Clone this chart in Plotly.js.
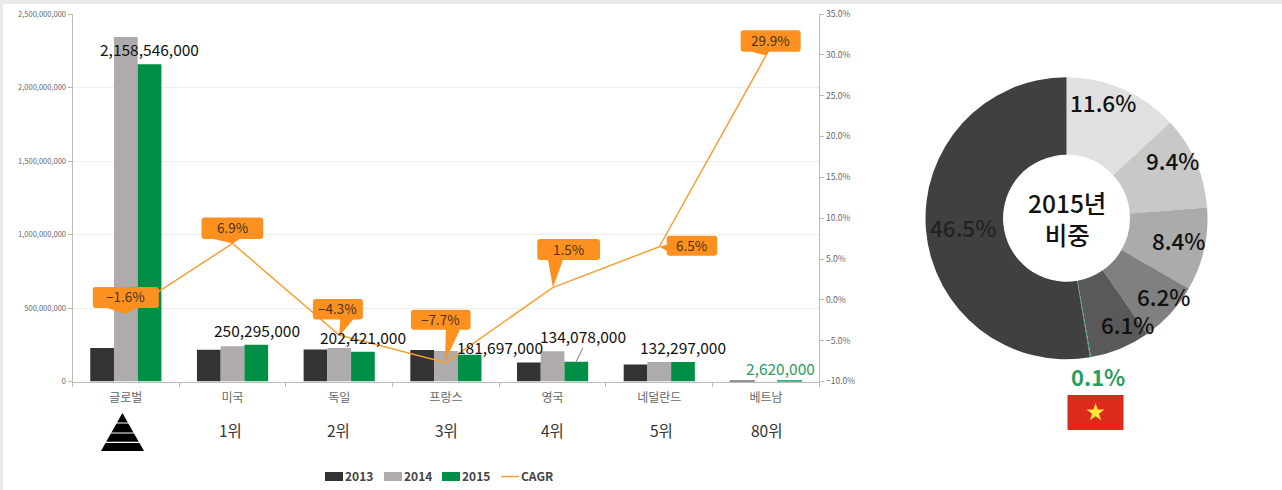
<!DOCTYPE html>
<html>
<head>
<meta charset="utf-8">
<script src="https://cdn.plot.ly/plotly-3.0.1.min.js"></script>
<style>
html,body{margin:0;padding:0;background:#fff;overflow:hidden}
#chart{position:absolute;left:0;top:0;width:1282px;height:490px}
.stripe{position:absolute;background:#e9e9e9;z-index:5}
</style>
</head>
<body>
<div id="chart"></div>
<div class="stripe" style="left:0;top:0;width:1282px;height:4px"></div>
<div class="stripe" style="left:0;top:0;width:3px;height:490px"></div>
<script>
const categories = ['글로벌','미국','독일','프랑스','영국','네덜란드','베트남'];
const ranks = ['','1위','2위','3위','4위','5위','80위'];
const seriesNames = ['2013','2014','2015','CAGR'];
const v2013 = [228000000,216000000,217000000,215000000,130000000,115000000,2000000];
const v2014 = [2343000000,240000000,228000000,208000000,205000000,132000000,2200000];
const v2015 = [2158546000,250295000,202421000,181697000,134078000,132297000,2620000];
const cagr = [-1.6,6.9,-4.3,-7.7,1.5,6.5,29.9];
const shareLabels = ['미국','독일','프랑스','영국','네덜란드','베트남','기타'];
const shareValues = [11.6,9.4,8.4,6.2,6.1,0.1,46.5];

const W=1282,H=490;
const FONT='"Noto Sans CJK KR","Noto Sans",sans-serif';
const px=x=>x/W, py=y=>1-y/H;
const ty=y=>py(y-1.5);
const ORANGE='#FE9020', LINE='#F7A035', C13='#333333', C14='#AFABAB', C15='#008F47', GREEN='#2A9D5E';
const fmt=n=>n.toLocaleString('en-US');
const pct=n=>(n<0?'−':'')+Math.abs(n).toFixed(1)+'%';

const barTrace=(name,y,color,lw)=>({type:'bar',name,x:categories,y,marker:{color,line:{color,width:categories.map((c,i)=>i===6?lw:0)}},hoverinfo:'skip'});
const traces=[
  barTrace(seriesNames[0],v2013,C13,1.5),
  barTrace(seriesNames[1],v2014,C14,0),
  barTrace(seriesNames[2],v2015,C15,1.5),
  {type:'scatter',mode:'lines',name:seriesNames[3],x:categories,y:cagr,yaxis:'y2',line:{color:LINE,width:1.5},hoverinfo:'skip'},
  {type:'pie',labels:shareLabels,values:shareValues,sort:false,direction:'clockwise',rotation:0,hole:0.45,
   textinfo:'none',showlegend:false,hoverinfo:'skip',
   marker:{colors:['#E0E0E0','#C8C8C8','#ABABAB','#808080','#595959','#2FA37A','#404040'],line:{width:0}},
   domain:{x:[px(925.5),px(1207.5)],y:[py(359.5),py(77)]}}
];

const annotations=[], shapes=[];
// value labels (x offset from category centre, page y)
const labelShift=[24,24.4,24.2,54,30.4,23.7,15];
const labelY=[51,331,338,348,337,348,369];
const rankShift=[0,-2,-1,0.7,0.4,2.7,0.7];
v2015.forEach((v,i)=>{
  annotations.push({xref:'x',yref:'paper',x:categories[i],xshift:labelShift[i],y:ty(labelY[i]),yanchor:'middle',xanchor:'center',
    text:fmt(v),showarrow:false,font:{family:FONT,size:15.5,color:i===6?GREEN:'#111'}});
  if(ranks[i]) annotations.push({xref:'x',yref:'paper',x:categories[i],xshift:rankShift[i],y:ty(431),yanchor:'middle',xanchor:'center',
    text:ranks[i],showarrow:false,font:{family:FONT,size:15.5,color:'#333'}});
});
// callouts: box and tail, pixels relative to the data point (y up)
function callout(i,l,r,t,b,a,c,tx,tyy,edge){
  const R=3;
  let p=`M${l+R},${t} L${r-R},${t} Q${r},${t} ${r},${t-R} L${r},${b+R} Q${r},${b} ${r-R},${b} `;
  if(edge==='left'){
    p+=`L${l+R},${b} Q${l},${b} ${l},${b+R} L${l},${a} L${tx},${tyy} L${l},${c} L${l},${t-R} Q${l},${t} ${l+R},${t} Z`;
  }else{
    p+=`L${c},${b} L${tx},${tyy} L${a},${b} L${l+R},${b} Q${l},${b} ${l},${b+R} L${l},${t-R} Q${l},${t} ${l+R},${t} Z`;
  }
  shapes.push({type:'path',layer:'above',xref:'x',yref:'y2',xsizemode:'pixel',ysizemode:'pixel',xanchor:i,yanchor:cagr[i],
    path:p,fillcolor:ORANGE,line:{width:0}});
  annotations.push({xref:'x',yref:'y2',x:categories[i],y:cagr[i],xanchor:'center',yanchor:'middle',
    xshift:(l+r)/2,yshift:(t+b)/2+1,text:pct(cagr[i]),showarrow:false,font:{family:FONT,size:13.5,color:'#4A3210'}});
}
callout(0,-33,33,26,5,-19,11,0,-1);
callout(1,-31,30.7,26,4.5,-19,7,0.5,0);
callout(2,-26.3,23.7,36,15.5,1,14,0,-1);
callout(3,-35,24.7,53,33,0,14,-1,1);
callout(4,-15.3,47.4,48.5,27.5,-4.6,10.4,0.4,0);
callout(5,7.4,58,11,-9,2,-4,0,0,'left');
callout(6,-25.3,34.7,25.5,4,-14.3,3,0.7,0);
// leader line for the UK label
shapes.push({type:'line',layer:'above',xref:'x',yref:'y',xsizemode:'pixel',ysizemode:'pixel',xanchor:4,yanchor:v2015[4],
  x0:23.4,y0:0,x1:30.4,y1:14,line:{color:'#555',width:0.8}});
// pyramid icon under the first category
shapes.push({type:'path',layer:'above',xref:'paper',yref:'paper',
  path:`M${px(122.4)},${py(413)} L${px(101)},${py(451)} L${px(144)},${py(451)} Z`,fillcolor:'#000',line:{width:0}});
[423,433,442.3].forEach(d=>shapes.push({type:'line',layer:'above',xref:'paper',yref:'paper',
  x0:px(98),x1:px(147),y0:py(d),y1:py(d),line:{color:'#fff',width:1.2}}));
// donut labels
const shareXY=[[1102.5,103],[1172,161],[1178,241],[1163,297],[1127,325],[1098,377],[963,228]];
shareValues.forEach((v,i)=>{
  const xy=shareXY[i];
  annotations.push({xref:'paper',yref:'paper',x:px(xy[0]),y:ty(xy[1]),xanchor:'center',yanchor:'middle',text:v.toFixed(1)+'%',showarrow:false,
    font:{family:FONT,size:i===5?22:22.5,color:i===5?GREEN:(i===6?'#222':'#111'),weight:i===5?700:500}});
});
annotations.push({xref:'paper',yref:'paper',x:px(1067),y:ty(220),xanchor:'center',yanchor:'middle',
  text:'2015년<br>비중',showarrow:false,font:{family:FONT,size:24.5,color:'#111',weight:500}});
// Vietnam flag
shapes.push({type:'rect',layer:'above',xref:'paper',yref:'paper',x0:px(1067.5),x1:px(1123.5),y0:py(430),y1:py(395),fillcolor:'#DE2A1B',line:{width:0}});
const star=[];for(let k=0;k<10;k++){const r=k%2?3.7:9.5,a=-Math.PI/2+k*Math.PI/5;star.push([1095.5+r*Math.cos(a),412.5+r*Math.sin(a)]);}
shapes.push({type:'path',layer:'above',xref:'paper',yref:'paper',
  path:'M'+star.map(s=>px(s[0])+','+py(s[1])).join(' L')+' Z',fillcolor:'#FFE83A',line:{width:0}});
// legend row
const legendX=[325,384,442,501];
const legendColor=[C13,C14,C15,LINE];
seriesNames.forEach((n,i)=>{
  const x=legendX[i];
  if(i<3) shapes.push({type:'rect',layer:'above',xref:'paper',yref:'paper',x0:px(x),x1:px(x+18),y0:py(481),y1:py(472),fillcolor:legendColor[i],line:{width:0}});
  else shapes.push({type:'line',layer:'above',xref:'paper',yref:'paper',x0:px(x),x1:px(x+18),y0:py(476.5),y1:py(476.5),line:{color:legendColor[i],width:1.5}});
  annotations.push({xref:'paper',yref:'paper',x:px(x+17.5),y:ty(476.5),xanchor:'left',yanchor:'middle',text:n,showarrow:false,
    font:{family:FONT,size:12,color:'#444',weight:700}});
});

const layout={
  width:W,height:H,margin:{l:0,r:0,t:0,b:0,autoexpand:false},paper_bgcolor:'#fff',plot_bgcolor:'#fff',
  barmode:'group',bargap:0.333,bargroupgap:0,
  font:{family:FONT},
  xaxis:{domain:[px(72.5),px(819.3)],type:'category',tickson:'boundaries',ticks:'outside',ticklen:4,tickcolor:'#BBB',tickwidth:1,ticklabelstandoff:5,
    showline:true,linecolor:'#BBB',linewidth:1,showgrid:false,tickfont:{family:FONT,size:12,color:'#666'},automargin:false,fixedrange:true},
  yaxis:{domain:[py(381.5),py(14)],range:[0,2500000000],dtick:500000000,tickformat:',d',ticks:'outside',ticklen:4,tickcolor:'#BBB',
    showline:true,linecolor:'#BBB',linewidth:1,gridcolor:'#EEE',gridwidth:1,zeroline:false,tickfont:{family:FONT,size:7.5,color:'#666'},automargin:false},
  yaxis2:{overlaying:'y',side:'right',anchor:'x',range:[-10,35],dtick:5,tickformat:'.1f',ticksuffix:'%',ticks:'outside',ticklen:4,tickcolor:'#BBB',
    showline:true,linecolor:'#BBB',linewidth:1,showgrid:false,zeroline:false,tickfont:{family:FONT,size:8.5,color:'#666'},automargin:false},
  showlegend:false,
  annotations,shapes
};
Plotly.newPlot('chart',traces,layout,{displayModeBar:false,staticPlot:true});
</script>
</body>
</html>
